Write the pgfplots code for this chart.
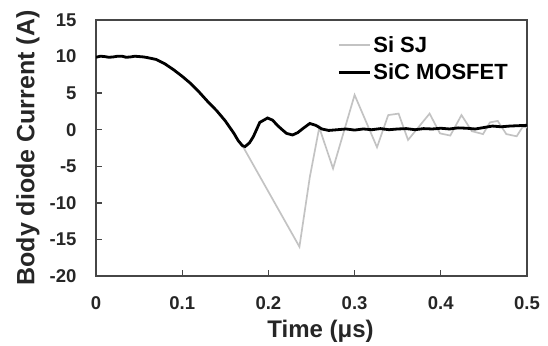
\documentclass[border=0pt]{standalone}
\usepackage{fontspec}
\setmainfont{Liberation Sans}
\usepackage{pgfplots}
\pgfplotsset{compat=1.18}
\definecolor{sjgray}{RGB}{195,195,195}
\definecolor{axgray}{RGB}{70,70,70}
\begin{document}
\begin{tikzpicture}
\begin{axis}[
 scale only axis, width=431bp, height=256bp,
 xmin=0, xmax=0.5, ymin=-20, ymax=15,
 xtick={0,0.1,0.2,0.3,0.4,0.5}, ytick={-20,-15,-10,-5,0,5,10,15},
 tick align=inside, xtick pos=bottom, ytick pos=left,
 major tick length=6bp,
 axis line style={draw=axgray, line width=1.3bp},
 every tick/.style={draw=axgray, line width=1.3bp},
 /pgf/number format/assume math mode=true,
 /pgf/number format/fixed,
 ticklabel style={font=\fontsize{18.5bp}{20bp}\selectfont\bfseries, text=black!85},
 yticklabel style={anchor=east, xshift=-16bp},
 xticklabel style={yshift=-17bp},
 xlabel={Time (μs)}, ylabel={Body diode Current (A)},
 xlabel style={font=\fontsize{24bp}{26bp}\selectfont\bfseries, text=black!85,
   at={(axis description cs:0.5,0)}, anchor=center, yshift=-55bp, xshift=9bp},
 ylabel style={font=\fontsize{25bp}{26bp}\selectfont\bfseries, text=black!85,
   at={(axis description cs:0,0.5)}, anchor=center, yshift=68bp},
 legend style={draw=none, fill=none, at={(0.56,0.945)}, anchor=north west,
   font=\fontsize{22bp}{25bp}\selectfont\bfseries, inner sep=0pt, row sep=6bp},
 legend cell align=left,
 legend image code/.code={\draw[#1] (0bp,0bp) -- (31bp,0bp);},
]
\addplot[sjgray, line width=1.7bp] coordinates {
(0,9.9) (0.01,10.0) (0.02,9.95) (0.03,10.05) (0.04,9.95) (0.05,10.0) (0.06,9.85)
(0.07,9.6) (0.08,9.0) (0.09,8.2) (0.10,7.3) (0.11,6.3) (0.12,5.1) (0.13,3.8)
(0.14,2.6) (0.15,1.2) (0.16,-0.5) (0.165,-1.5) (0.17,-2.2)
(0.236,-16.0) (0.248,-6.5) (0.259,0.3) (0.275,-5.3) (0.300,4.75) (0.326,-2.4)
(0.339,2.0) (0.351,2.2) (0.362,-1.4) (0.387,2.2) (0.399,-0.5) (0.411,-0.8)
(0.424,2.0) (0.436,-0.2) (0.449,-0.6) (0.457,1.0) (0.466,1.2) (0.476,-0.6)
(0.488,-0.9) (0.495,0.4) (0.5,0.3)
};
\addlegendentry{Si SJ}
\addplot[black, line width=2.8bp] coordinates {
(0,9.9) (0.005,10.05) (0.01,10.0) (0.015,9.9) (0.02,9.95) (0.025,10.05) (0.03,10.05)
(0.035,9.9) (0.04,9.95) (0.045,10.05) (0.05,10.0) (0.055,9.95) (0.06,9.85)
(0.07,9.6) (0.08,9.0) (0.09,8.2) (0.10,7.3) (0.11,6.3) (0.12,5.1) (0.13,3.8)
(0.14,2.6) (0.15,1.2) (0.16,-0.5) (0.165,-1.5) (0.17,-2.2)
(0.173,-2.3) (0.178,-1.8) (0.1825,-0.96) (0.19,1.0) (0.199,1.6) (0.205,1.3)
(0.21,0.64) (0.216,0.0) (0.221,-0.5) (0.228,-0.72) (0.234,-0.4) (0.2405,0.2)
(0.248,0.85) (0.255,0.6) (0.262,0.1) (0.27,-0.1) (0.28,0.0) (0.29,0.1) (0.30,-0.05)
(0.31,0.1) (0.32,0.0) (0.33,0.15) (0.34,0.0) (0.35,0.1) (0.36,0.15) (0.37,0.0)
(0.38,0.15) (0.39,0.1) (0.40,0.2) (0.41,0.1) (0.42,0.25) (0.43,0.2) (0.44,0.1)
(0.45,0.3) (0.46,0.5) (0.47,0.4) (0.48,0.5) (0.49,0.55) (0.50,0.6)
};
\addlegendentry{SiC MOSFET}
\coordinate (bl) at (rel axis cs:0,0);
\coordinate (tr) at (rel axis cs:1,1);
\end{axis}
\path (bl) ++(-96bp,-67bp) coordinate (pbl);
\path (tr) ++(21bp,20bp) coordinate (ptr);
\path (pbl) rectangle (ptr);
\end{tikzpicture}
\end{document}
